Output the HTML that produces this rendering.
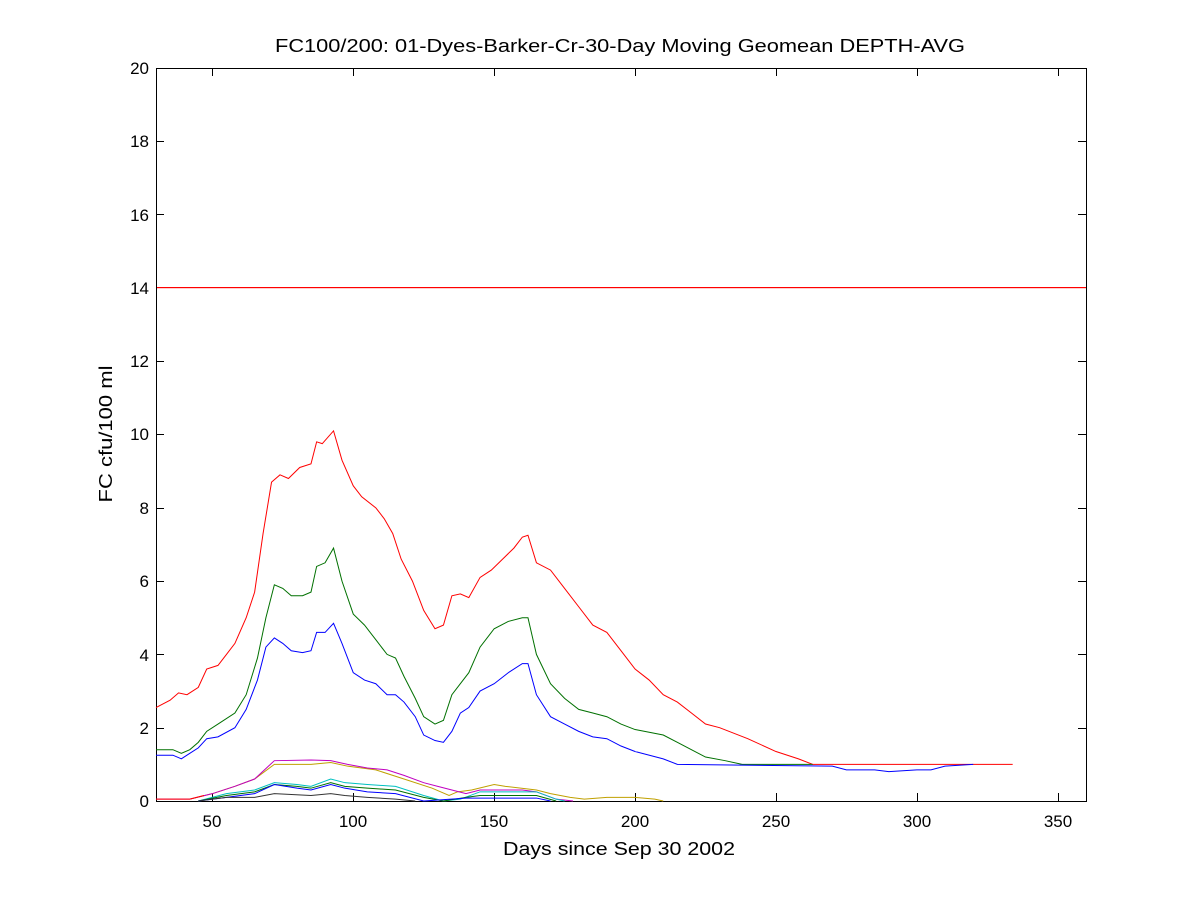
<!DOCTYPE html>
<html><head><style>body{margin:0;background:#fff}svg{display:block}text{font-family:"Liberation Sans",sans-serif;fill:#000}</style></head><body>
<svg width="1200" height="901" viewBox="0 0 1200 901" xmlns="http://www.w3.org/2000/svg">
<rect width="1200" height="901" fill="#fff"/>
<g font-size="18">
<text x="620" y="52" text-anchor="middle" textLength="690" lengthAdjust="spacingAndGlyphs">FC100/200: 01-Dyes-Barker-Cr-30-Day Moving Geomean DEPTH-AVG</text>
<text x="619" y="855" text-anchor="middle" textLength="232" lengthAdjust="spacingAndGlyphs">Days since Sep 30 2002</text>
<text transform="translate(112,434) rotate(-90)" text-anchor="middle" textLength="137" lengthAdjust="spacingAndGlyphs">FC cfu/100 ml</text>
</g>
<g font-size="17">
<g text-anchor="middle">
<text x="212" y="827">50</text><text x="353" y="827">100</text><text x="494" y="827">150</text><text x="635" y="827">200</text><text x="776" y="827">250</text><text x="917" y="827">300</text><text x="1058" y="827">350</text>
</g>
<g text-anchor="end">
<text x="149" y="807">0</text><text x="149" y="734">2</text><text x="149" y="661">4</text><text x="149" y="587">6</text><text x="149" y="514">8</text><text x="149" y="440">10</text><text x="149" y="367">12</text><text x="149" y="294">14</text><text x="149" y="221">16</text><text x="149" y="147">18</text><text x="149" y="74">20</text>
</g>
</g>
<g stroke="#000" stroke-width="1" fill="none">
<rect x="156.5" y="68.5" width="930" height="733"/>
<path d="M212.5 801v-8M353.5 801v-8M494.5 801v-8M635.5 801v-8M776.5 801v-8M917.5 801v-8M1058.5 801v-8M212.5 68v8M353.5 68v8M494.5 68v8M635.5 68v8M776.5 68v8M917.5 68v8M1058.5 68v8"/>
<path d="M156 728.5h8M156 654.5h8M156 581.5h8M156 508.5h8M156 434.5h8M156 361.5h8M156 214.5h8M156 141.5h8M1086 728.5h-8M1086 654.5h-8M1086 581.5h-8M1086 508.5h-8M1086 434.5h-8M1086 361.5h-8M1086 214.5h-8M1086 141.5h-8"/>
</g>
<rect x="157" y="287" width="929" height="1.2" fill="#ff0000"/>
<g transform="translate(156,801) scale(2.818,-36.65) translate(-30,0)" fill="none">
<polyline vector-effect="non-scaling-stroke" stroke="#f00" points="30,2.55 35,2.75 38,2.95 41,2.9 45,3.1 48,3.6 52,3.7 55,4.0 58,4.3 62,5.0 65,5.7 68,7.3 71,8.7 74,8.9 77,8.8 81,9.1 85,9.2 87,9.8 89,9.75 93,10.1 96,9.3 100,8.6 103,8.3 108,8.0 111,7.7 114,7.3 117,6.6 121,6.0 125,5.2 129,4.7 132,4.8 135,5.6 138,5.65 141,5.55 145,6.1 149,6.3 153,6.6 157,6.9 160,7.2 162,7.25 165,6.5 170,6.3 175,5.8 180,5.3 185,4.8 190,4.6 195,4.1 200,3.6 205,3.3 210,2.9 215,2.7 220,2.4 225,2.1 230,2.0 240,1.7 250,1.35 258,1.15 263,1.0 334,1.0"/>
<polyline vector-effect="non-scaling-stroke" stroke="#007000" points="30,1.4 36,1.4 39,1.3 42,1.4 45,1.6 48,1.9 52,2.1 58,2.4 62,2.9 66,3.9 69,5.0 72,5.9 75,5.8 78,5.6 82,5.6 85,5.7 87,6.4 90,6.5 93,6.9 96,6.0 100,5.1 104,4.8 108,4.4 112,4.0 115,3.9 118,3.4 122,2.8 125,2.3 129,2.1 132,2.2 135,2.9 138,3.2 141,3.5 145,4.2 150,4.7 155,4.9 160,5.0 162,5.0 165,4.0 170,3.2 175,2.8 180,2.5 185,2.4 190,2.3 195,2.1 200,1.95 210,1.8 215,1.6 220,1.4 225,1.2 232,1.1 238,1.0 263,1.0"/>
<polyline vector-effect="non-scaling-stroke" stroke="#00f" points="30,1.25 36,1.25 39,1.15 42,1.3 45,1.45 48,1.7 52,1.75 58,2.0 62,2.5 66,3.3 69,4.2 72,4.45 75,4.3 78,4.1 82,4.05 85,4.1 87,4.6 90,4.6 93,4.85 96,4.3 100,3.5 104,3.3 108,3.2 112,2.9 115,2.9 118,2.7 122,2.3 125,1.8 129,1.65 132,1.6 135,1.9 138,2.4 141,2.55 145,3.0 150,3.2 155,3.5 160,3.75 162,3.75 165,2.9 170,2.3 175,2.1 180,1.9 185,1.75 190,1.7 195,1.5 200,1.35 210,1.15 215,1.0 270,0.95 275,0.85 285,0.85 290,0.8 300,0.85 305,0.85 310,0.95 320,1.0"/>
<polyline vector-effect="non-scaling-stroke" stroke="#c0a000" points="42,0.05 50,0.2 58,0.4 65,0.6 72,1.0 85,1.0 92,1.05 98,0.95 108,0.85 118,0.6 128,0.35 134,0.15 137,0.25 142,0.3 150,0.45 154,0.4 165,0.3 170,0.2 177,0.1 182,0.05 190,0.1 200,0.1 207,0.05 210,0"/>
<polyline vector-effect="non-scaling-stroke" stroke="#c000c0" points="30,0.05 42,0.05 50,0.2 58,0.4 65,0.6 72,1.1 85,1.12 92,1.1 98,1.0 105,0.9 112,0.85 118,0.7 125,0.5 130,0.4 135,0.3 140,0.2 145,0.3 150,0.3 160,0.3 165,0.25 172,0.05 178,0"/>
<polyline vector-effect="non-scaling-stroke" stroke="#00c0c0" points="45,0 55,0.2 65,0.3 72,0.5 80,0.45 85,0.4 92,0.6 97,0.5 105,0.45 115,0.4 125,0.15 132,0 138,0.05 145,0.25 165,0.25 172,0.05 175,0"/>
<polyline vector-effect="non-scaling-stroke" stroke="#007000" points="45,0 55,0.15 65,0.25 72,0.45 80,0.4 85,0.35 92,0.5 97,0.4 105,0.35 115,0.3 125,0.1 132,0 140,0.1 145,0.15 165,0.15 172,0"/>
<polyline vector-effect="non-scaling-stroke" stroke="#00f" points="45,0 55,0.1 65,0.2 72,0.45 80,0.35 85,0.3 92,0.45 97,0.35 105,0.25 115,0.2 125,0 140,0.08 165,0.08 170,0"/>
<polyline vector-effect="non-scaling-stroke" stroke="#333" points="45,0 55,0.1 65,0.1 72,0.2 85,0.15 92,0.2 97,0.15 105,0.1 115,0.05 122,0"/>
<polyline vector-effect="non-scaling-stroke" stroke="#f00" points="30,0.05 42,0.05 47,0.15"/>
</g>
</svg>
</body></html>
